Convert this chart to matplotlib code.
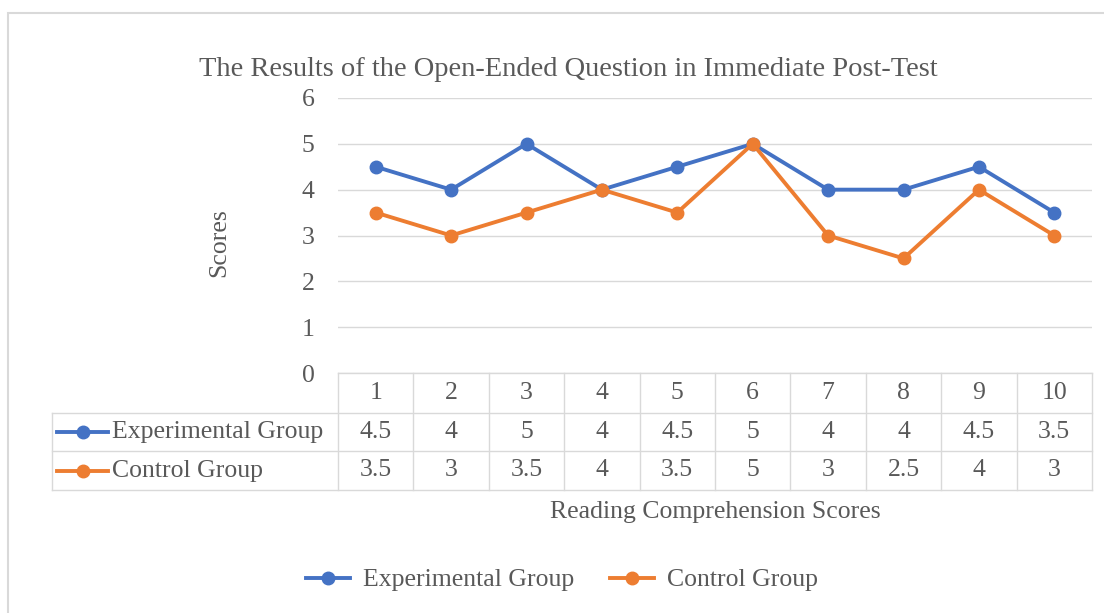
import matplotlib.pyplot as plt
from matplotlib.lines import Line2D
from matplotlib.patches import Rectangle

plt.rcParams['font.family'] = ['Liberation Serif', 'DejaVu Serif']

categories = [1, 2, 3, 4, 5, 6, 7, 8, 9, 10]
experimental = [4.5, 4, 5, 4, 4.5, 5, 4, 4, 4.5, 3.5]
control = [3.5, 3, 3.5, 4, 3.5, 5, 3, 2.5, 4, 3]
series_names = ['Experimental Group', 'Control Group']
colors = ['#4472C4', '#ED7D31']

txt = '#595959'
grid = '#d9d9d9'
fs = 18.5

fig = plt.figure(figsize=(11.04, 6.13), dpi=100)
fig.patches.append(Rectangle((8 / 1104, -0.1), 1.2, 1 - 13 / 613 + 0.1,
                             transform=fig.transFigure, fill=False,
                             edgecolor=grid, lw=1.5))

ax = fig.add_axes([338 / 1104, 1 - 373 / 613, 754 / 1104, 275 / 613])
x = list(range(len(categories)))
for vals, name, c in zip([experimental, control], series_names, colors):
    ax.plot(x, vals, color=c, lw=2.8, marker='o', ms=9, label=name)

ax.set_xlim(-0.5, len(categories) - 0.5)
ax.set_ylim(0, 6)
ax.set_yticks(range(0, 7))
ax.yaxis.grid(True, color=grid, lw=1)
ax.set_axisbelow(True)
ax.tick_params(axis='y', length=0, pad=17, labelsize=fs, labelcolor=txt)
ax.tick_params(axis='x', length=0, labelbottom=False)
for s in ax.spines.values():
    s.set_visible(False)
ax.set_ylabel('Scores', fontsize=fs, color=txt)
ax.yaxis.set_label_coords(-0.143, 0.475)
fig.text(568 / 1104, 1 - 70 / 613,
         'The Results of the Open-Ended Question in Immediate Post-Test',
         ha='center', va='center', fontsize=20.5, color=txt)

# data table below the plot
tr = ax.get_xaxis_transform()
rows_y = [0, -40 / 275, -78 / 275, -117 / 275]
left = -0.5 - 286 / 75.4
right = len(categories) - 0.5
kw = dict(color=grid, lw=1, transform=tr, clip_on=False)
ax.add_line(Line2D([-0.5, right], [rows_y[0]] * 2, **kw))
for yy in rows_y[1:]:
    ax.add_line(Line2D([left, right], [yy] * 2, **kw))
for i in range(len(categories) + 1):
    ax.add_line(Line2D([i - 0.5] * 2, [rows_y[0], rows_y[3]], **kw))
ax.add_line(Line2D([left] * 2, [rows_y[1], rows_y[3]], **kw))

mid = [(rows_y[k] + rows_y[k + 1]) / 2 for k in range(3)]
for i, c in enumerate(categories):
    ax.text(i, mid[0], str(c), transform=tr, ha='center', va='center',
            fontsize=fs, color=txt)
for r, vals in enumerate([experimental, control]):
    for i, v in enumerate(vals):
        ax.text(i, mid[r + 1], f'{v:g}', transform=tr, ha='center',
                va='center', fontsize=fs, color=txt)
    k0 = left + 5 / 75.4
    k1 = left + 56 / 75.4
    ax.add_line(Line2D([k0, k1], [mid[r + 1]] * 2, color=colors[r], lw=2.8,
                       transform=tr, clip_on=False))
    ax.add_line(Line2D([(k0 + k1) / 2], [mid[r + 1]], color=colors[r],
                       marker='o', ms=9, transform=tr, clip_on=False))
    ax.text(left + 60 / 75.4, mid[r + 1], series_names[r], transform=tr,
            ha='left', va='center', fontsize=fs, color=txt)

fig.text(715 / 1104, 1 - 512 / 613, 'Reading Comprehension Scores',
         ha='center', va='center', fontsize=fs, color=txt)

fig.legend(loc='center', bbox_to_anchor=(562 / 1104, 1 - 580 / 613),
           ncol=2, frameon=False, fontsize=fs, labelcolor=txt,
           handlelength=1.7, columnspacing=1.4, handletextpad=0.5)

fig.savefig('out.png', dpi=100)
